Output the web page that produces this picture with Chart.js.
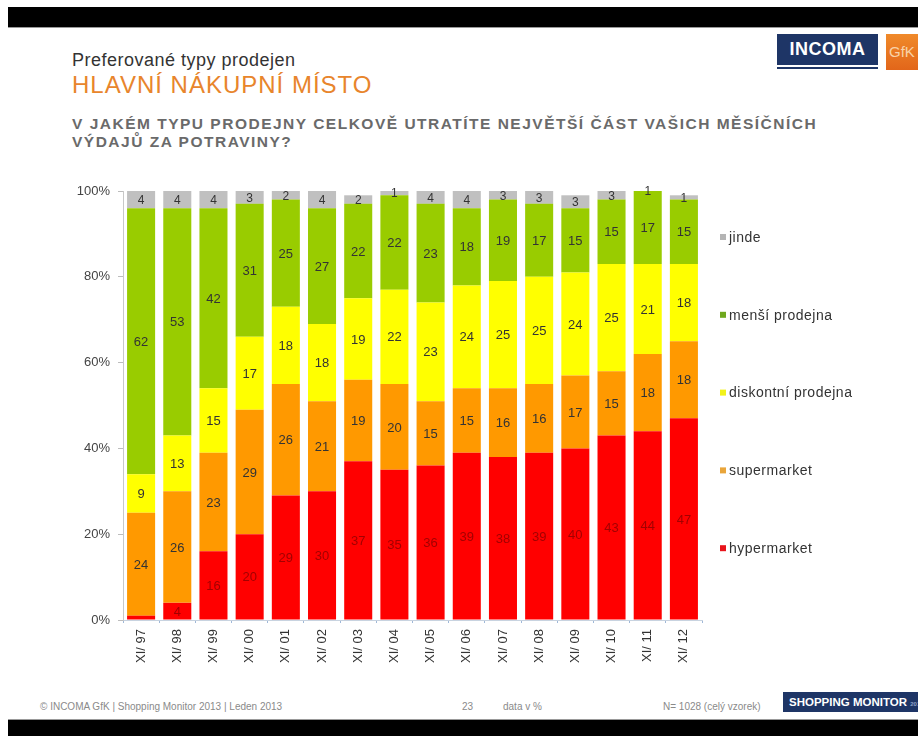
<!DOCTYPE html>
<html lang="cs">
<head>
<meta charset="utf-8">
<script src="https://cdn.jsdelivr.net/npm/chart.js@4/dist/chart.umd.min.js"></script>
<style>
  html, body { margin: 0; padding: 0; background: #fff; }
  body { width: 918px; height: 736px; position: relative; overflow: hidden; font-family: "Liberation Sans", Arial, sans-serif; }
  .band { position: absolute; left: 8px; right: 0; background: #000; }
  .band.top { top: 7px; height: 20px; border-bottom: 1px solid #999; }
  .band.bottom { top: 719px; height: 17px; border-top: 1px solid #999; }
  .t1 { position: absolute; left: 72px; top: 50px; font-size: 18px; letter-spacing: 0.5px; color: #333; white-space: nowrap; }
  .t2 { position: absolute; left: 72px; top: 71px; font-size: 24px; letter-spacing: 1px; color: #E8852C; white-space: nowrap; }
  .q { position: absolute; left: 72px; top: 115px; font-size: 15.5px; letter-spacing: 1.5px; font-weight: bold; color: #6a6a6a; line-height: 18px; white-space: nowrap; }
  .logo { position: absolute; left: 777px; top: 34px; width: 101px; height: 31px; background: #1E3566; border-bottom: 2px solid #fff; box-shadow: 0 2px 0 #1E3566; color: #fff; font-weight: bold; font-size: 18px; text-align: center; line-height: 31px; letter-spacing: 0.5px; }
  .gfk { position: absolute; left: 886px; top: 34px; width: 32px; height: 36px; background: linear-gradient(#F08A2A, #E2661A); color: #f8d2a8; font-size: 15px; line-height: 36px; padding-left: 3px; box-sizing: border-box; overflow: hidden; }
  .foot { position: absolute; top: 701px; font-size: 10px; color: #8a8a8a; white-space: nowrap; }
  .sm { position: absolute; left: 783px; top: 692px; width: 135px; height: 20px; background: #1E3566; color: #fff; font-weight: bold; font-size: 11.5px; line-height: 20px; padding-left: 6px; box-sizing: border-box; white-space: nowrap; overflow: hidden; }
  #chartWrap { position: absolute; left: 0; top: 170px; width: 918px; height: 510px; }
</style>
</head>
<body>
<div class="band top"></div>
<div class="t1">Preferované typy prodejen</div>
<div class="t2">HLAVNÍ NÁKUPNÍ MÍSTO</div>
<div class="q">V JAKÉM TYPU PRODEJNY CELKOVĚ UTRATÍTE NEJVĚTŠÍ ČÁST VAŠICH MĚSÍČNÍCH<br>VÝDAJŮ ZA POTRAVINY?</div>
<div class="logo">INCOMA</div>
<div class="gfk">GfK</div>

<div id="chartWrap"><canvas id="c" width="918" height="510"></canvas></div>

<div class="foot" style="left:40px">© INCOMA GfK | Shopping Monitor 2013 | Leden 2013</div>
<div class="foot" style="left:462px">23</div>
<div class="foot" style="left:503px">data v %</div>
<div class="foot" style="left:663px">N= 1028 (celý vzorek)</div>
<div class="sm">SHOPPING MONITOR <span style="font-size:6px;color:#8fa3c8">2013</span></div>
<div class="band bottom"></div>

<script>
// Survey waves (November of each year)
const waves = ["XI/ 97", "XI/ 98", "XI/ 99", "XI/ 00", "XI/ 01", "XI/ 02", "XI/ 03", "XI/ 04",
               "XI/ 05", "XI/ 06", "XI/ 07", "XI/ 08", "XI/ 09", "XI/ 10", "XI/ 11", "XI/ 12"];

// Share of respondents (%) by main store type
const hypermarket = [1, 4, 16, 20, 29, 30, 37, 35, 36, 39, 38, 39, 40, 43, 44, 47];
const supermarket = [24, 26, 23, 29, 26, 21, 19, 20, 15, 15, 16, 16, 17, 15, 18, 18];
const diskontni   = [9, 13, 15, 17, 18, 18, 19, 22, 23, 24, 25, 25, 24, 25, 21, 18];
const mensi       = [62, 53, 42, 31, 25, 27, 22, 22, 23, 18, 19, 17, 15, 15, 17, 15];
const jinde       = [4, 4, 4, 3, 2, 4, 2, 1, 4, 4, 3, 3, 3, 3, 1, 1];

const yTicks = [0, 20, 40, 60, 80, 100];

const FONT = '"Liberation Sans", Arial, sans-serif';

const series = [
  { label: "hypermarket",        data: hypermarket, color: "#FF0000", key: "#E8141B", text: "#A30000" },
  { label: "supermarket",        data: supermarket, color: "#FF9900", key: "#E9A53A", text: "#333333" },
  { label: "diskontní prodejna", data: diskontni,   color: "#FFFF00", key: "#F2F21A", text: "#333333" },
  { label: "menší prodejna",     data: mensi,       color: "#99CC00", key: "#6FA81E", text: "#333333" },
  { label: "jinde",              data: jinde,       color: "#C0C0C0", key: "#B4B4B4", text: "#333333" }
];

// Values printed in the middle of each segment
const segmentLabels = {
  id: "segmentLabels",
  afterDatasetsDraw(chart) {
    const ctx = chart.ctx;
    ctx.save();
    ctx.textAlign = "center";
    ctx.textBaseline = "middle";
    chart.data.datasets.forEach((ds, di) => {
      const meta = chart.getDatasetMeta(di);
      const isTop = di === chart.data.datasets.length - 1;
      ctx.font = (isTop ? "12px " : "13px ") + FONT;
      ctx.fillStyle = series[di].text;
      meta.data.forEach((bar, i) => {
        const v = ds.data[i];
        if (!isTop && v < 2) return;
        const top = Math.max(bar.y, chart.chartArea.top);
        const y = (top + bar.base) / 2;
        ctx.fillText(String(v), bar.x, y + 1);
      });
    });
    ctx.restore();
  }
};

// Legend on the right, listed from the top segment down
const sideLegend = {
  id: "sideLegend",
  afterDraw(chart) {
    const ctx = chart.ctx;
    const area = chart.chartArea;
    ctx.save();
    ctx.font = "14px " + FONT;
    ctx.letterSpacing = "0.5px";
    ctx.textBaseline = "middle";
    ctx.textAlign = "left";
    const items = series.slice().reverse();
    items.forEach((s, k) => {
      const y = area.top + 46 + k * 77.8;
      ctx.fillStyle = s.key;
      ctx.fillRect(720, y - 3, 6, 6);
      ctx.fillStyle = "#333";
      ctx.fillText(s.label, 729, y + 1);
    });
    ctx.restore();
  }
};

new Chart(document.getElementById("c"), {
  type: "bar",
  data: {
    labels: waves,
    datasets: series.map(s => ({
      label: s.label,
      data: s.data,
      backgroundColor: s.color,
      borderWidth: 0,
      categoryPercentage: 1,
      barPercentage: 0.775
    }))
  },
  options: {
    responsive: false,
    animation: false,
    layout: { padding: { left: 0, right: 216, top: 21, bottom: 0 } },
    plugins: { legend: { display: false }, tooltip: { enabled: false } },
    scales: {
      x: {
        stacked: true,
        afterFit(scale) { scale.height = 60; },
        grid: { display: true, drawOnChartArea: false, drawTicks: true, tickLength: 3, color: "#9FB8D8", offset: true },
        border: { display: true, color: "#C8D3E0", width: 1 },
        ticks: {
          minRotation: 90, maxRotation: 90, autoSkip: false, padding: 6,
          color: "#333", font: { family: FONT, size: 13 }
        }
      },
      y: {
        stacked: true,
        min: 0, max: 100,
        afterFit(scale) { scale.width = 123; },
        afterBuildTicks(scale) { scale.ticks = yTicks.map(v => ({ value: v })); },
        grid: { display: true, drawOnChartArea: false, drawTicks: true, tickLength: 5, color: "#BDBDBD" },
        border: { display: true, color: "#C8C8C8", width: 1 },
        ticks: {
          padding: 8, color: "#444", font: { family: FONT, size: 13 },
          callback: v => v + "%"
        }
      }
    }
  },
  plugins: [segmentLabels, sideLegend]
});
</script>
</body>
</html>
